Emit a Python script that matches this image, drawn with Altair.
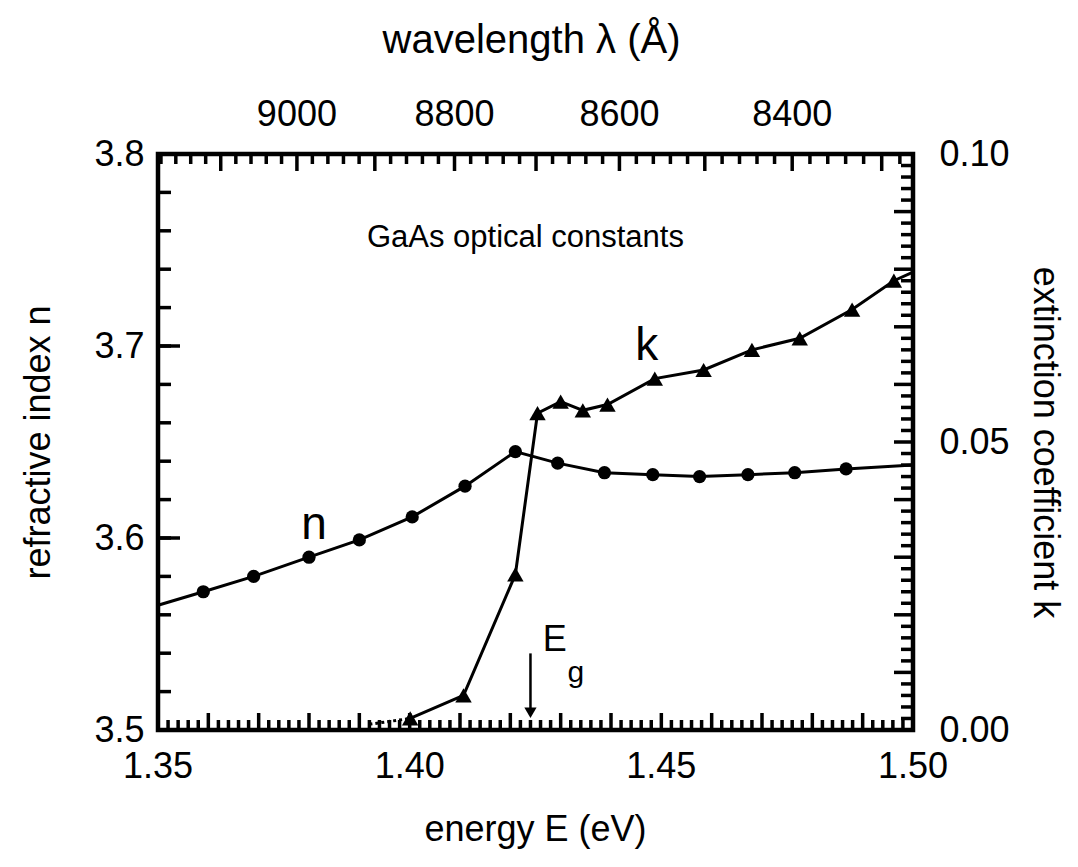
import altair as alt
import pandas as pd

# ---------------- data ----------------
n_E = [1.35, 1.359, 1.369, 1.380, 1.390, 1.4005, 1.411, 1.421, 1.4294, 1.4387, 1.4483, 1.4576,
       1.4672, 1.4765, 1.4867, 1.50]
n_val = [3.565, 3.572, 3.580, 3.590, 3.599, 3.611, 3.627, 3.645, 3.639, 3.634, 3.633, 3.632,
         3.633, 3.634, 3.636, 3.638]
n_marker = [False] + [True] * 14 + [False]

k_E = [1.4001, 1.4107, 1.421, 1.4254, 1.430, 1.4344, 1.4393, 1.4487, 1.4584, 1.468, 1.4775,
       1.4879, 1.4962, 1.50]
k_val = [0.002, 0.006, 0.027, 0.055, 0.057, 0.0555, 0.0565, 0.061, 0.0625, 0.066, 0.068,
         0.073, 0.078, 0.0795]
k_marker = [True] * 13 + [False]

k_tail_E = [1.392, 1.4001]         # dotted part along the axis
k_tail_val = [0.001, 0.002]

Eg = 1.424                         # band-gap arrow
Eg_top, Eg_tip = 0.0133, 0.003

bottom_labels = [1.35, 1.40, 1.45, 1.50]
left_labels = [3.5, 3.6, 3.7, 3.8]
right_labels = [0.0, 0.05, 0.10]
top_labels = [9000, 8800, 8600, 8400]   # wavelength, Angstrom
HC = 12398.4                            # eV*Angstrom, converts lambda -> E

# ---------------- layout / style ----------------
W, H = 755, 576
FONT = "Liberation Sans"
LW = 3
TW = 3.5

xs = alt.Scale(domain=[1.35, 1.50], nice=False, zero=False)
ns = alt.Scale(domain=[3.5, 3.8], nice=False, zero=False)
ks = alt.Scale(domain=[0.0, 0.10], nice=False, zero=False)

X = lambda f="E": alt.X(f"{f}:Q", scale=xs, axis=None)
YN = lambda f="n": alt.Y(f"{f}:Q", scale=ns, axis=None)
YK = lambda f="k": alt.Y(f"{f}:Q", scale=ks, axis=None)

ndf = pd.DataFrame({"E": n_E, "n": n_val, "m": n_marker})
kdf = pd.DataFrame({"E": k_E, "k": k_val, "m": k_marker})
ktail = pd.DataFrame({"E": k_tail_E, "k": k_tail_val})

n_line = alt.Chart(ndf).mark_line(color="black", strokeWidth=LW).encode(
    x=X(),
    y=alt.Y("n:Q", scale=ns, axis=alt.Axis(
        orient="left", values=left_labels, format=".1f", title="refractive index n",
        ticks=False, domain=False, grid=False, labelPadding=14, titlePadding=36)),
)
n_pts = alt.Chart(ndf).transform_filter("datum.m").mark_circle(
    color="black", size=175, opacity=1).encode(x=X(), y=YN())

k_line = alt.Chart(kdf).mark_line(color="black", strokeWidth=LW).encode(
    x=X(),
    y=alt.Y("k:Q", scale=ks, axis=alt.Axis(
        orient="right", values=right_labels, format=".2f", title="extinction coefficient k",
        ticks=False, domain=False, grid=False, labelPadding=26, titlePadding=16)),
)
k_pts = alt.Chart(kdf).transform_filter("datum.m").mark_point(
    shape="triangle-up", filled=True, color="black", size=270, opacity=1).encode(x=X(), y=YK())
k_tail_line = alt.Chart(ktail).mark_line(color="black", strokeWidth=LW, strokeDash=[3, 3]).encode(
    x=X(), y=YK())

# band gap arrow
eg_df = pd.DataFrame({"E": [Eg], "k1": [Eg_top], "k2": [Eg_tip]})
eg_rule = alt.Chart(eg_df).mark_rule(color="black", strokeWidth=2.5).encode(
    x=X(), y=YK("k1"), y2="k2:Q")
eg_head = alt.Chart(eg_df).mark_point(
    shape="triangle-down", filled=True, color="black", size=150, opacity=1).encode(x=X(), y=YK("k2"))

# in-plot text labels
txt_n = pd.DataFrame({"E": [1.381, 1.423], "n": [3.607, 3.756], "t": ["n", "GaAs optical constants"],
                      "s": [46, 31]})
txt_k = pd.DataFrame({"E": [1.4471, 1.4288, 1.433], "k": [0.0667, 0.0156, 0.0099],
                      "t": ["k", "E", "g"], "s": [46, 36, 30]})
t_n = alt.Chart(txt_n).mark_text(font=FONT, color="black", baseline="middle").encode(
    x=X(), y=YN(), text="t:N", size=alt.Size("s:Q", scale=None, legend=None))
t_k = alt.Chart(txt_k).mark_text(font=FONT, color="black", baseline="middle").encode(
    x=X(), y=YK(), text="t:N", size=alt.Size("s:Q", scale=None, legend=None))

# ---------------- tick marks (inside the frame) ----------------
bot_major = [round(1.36 + 0.01 * i, 3) for i in range(14)]
bot_minor = [round(1.35 + 0.002 * i, 3) for i in range(76) if i % 5 != 0]
left_major = [3.6, 3.7]
left_minor = [round(3.5 + 0.02 * i, 3) for i in range(1, 15)]
right_major = [round(0.01 * i, 3) for i in range(1, 10)]
right_minor = [round(0.002 * i, 4) for i in range(1, 50) if i % 5 != 0]
top_major = [9100, 9000, 8900, 8800, 8700, 8600, 8500, 8400, 8300]
top_minor = [l for l in range(8280, 9200, 20) if l % 100 != 0]


def xticks(vals, y0, y1, conv=False):
    df = pd.DataFrame({"E": [HC / v for v in vals] if conv else vals})
    return alt.Chart(df).mark_rule(color="black", strokeWidth=TW).encode(
        x=X(), y=alt.value(y0), y2=alt.value(y1))


def nticks(vals, x0, x1):
    return alt.Chart(pd.DataFrame({"n": vals})).mark_rule(color="black", strokeWidth=TW).encode(
        y=YN(), x=alt.value(x0), x2=alt.value(x1))


def kticks(vals, x0, x1):
    return alt.Chart(pd.DataFrame({"k": vals})).mark_rule(color="black", strokeWidth=TW).encode(
        y=YK(), x=alt.value(x0), x2=alt.value(x1))


ticks = [
    xticks(bot_major, H, H - 17), xticks(bot_minor, H, H - 10),
    xticks(top_major, 0, 17, True), xticks(top_minor, 0, 10, True),
    nticks(left_major, 0, 22), nticks(left_minor, 0, 13),
    kticks(right_major, W, W - 19), kticks(right_minor, W, W - 12),
]

# bottom energy axis labels and title
bot_df = pd.DataFrame({"E": bottom_labels, "t": [f"{v:.2f}" for v in bottom_labels]})
bot_txt = alt.Chart(bot_df).mark_text(font=FONT, fontSize=36, color="black", baseline="middle").encode(
    x=X(), y=alt.value(H + 37), text="t:N")
bot_title = alt.Chart(pd.DataFrame({"t": ["energy E (eV)"]})).mark_text(
    font=FONT, fontSize=36, color="black", baseline="middle").encode(
    x=alt.value(W / 2), y=alt.value(H + 100), text="t:N")

# top wavelength axis labels and title
top_df = pd.DataFrame({"E": [HC / v for v in top_labels], "t": [str(v) for v in top_labels]})
top_txt = alt.Chart(top_df).mark_text(font=FONT, fontSize=36, color="black", baseline="middle").encode(
    x=X(), y=alt.value(-39), text="t:N")
top_title = alt.Chart(pd.DataFrame({"t": ["wavelength λ (Å)"]})).mark_text(
    font=FONT, fontSize=40, color="black", baseline="middle").encode(
    x=alt.value(W / 2 - 4), y=alt.value(-113), text="t:N")

chart = alt.layer(
    n_line, k_line, n_pts, k_pts, k_tail_line, eg_rule, eg_head, t_n, t_k,
    *ticks, bot_txt, bot_title, top_txt, top_title,
).resolve_scale(y="independent").properties(
    width=W, height=H,
    background="white",
    padding={"left": 158, "top": 154, "right": 165, "bottom": 137},
    autosize=alt.AutoSizeParams(type="none"),
).configure_view(stroke="black", strokeWidth=4.5).configure_axis(
    labelFont=FONT, titleFont=FONT, labelFontSize=36, titleFontSize=36,
    labelColor="black", titleColor="black", titleFontWeight="normal",
)

chart.save("out.html", embed_options={"renderer": "svg", "actions": False})
